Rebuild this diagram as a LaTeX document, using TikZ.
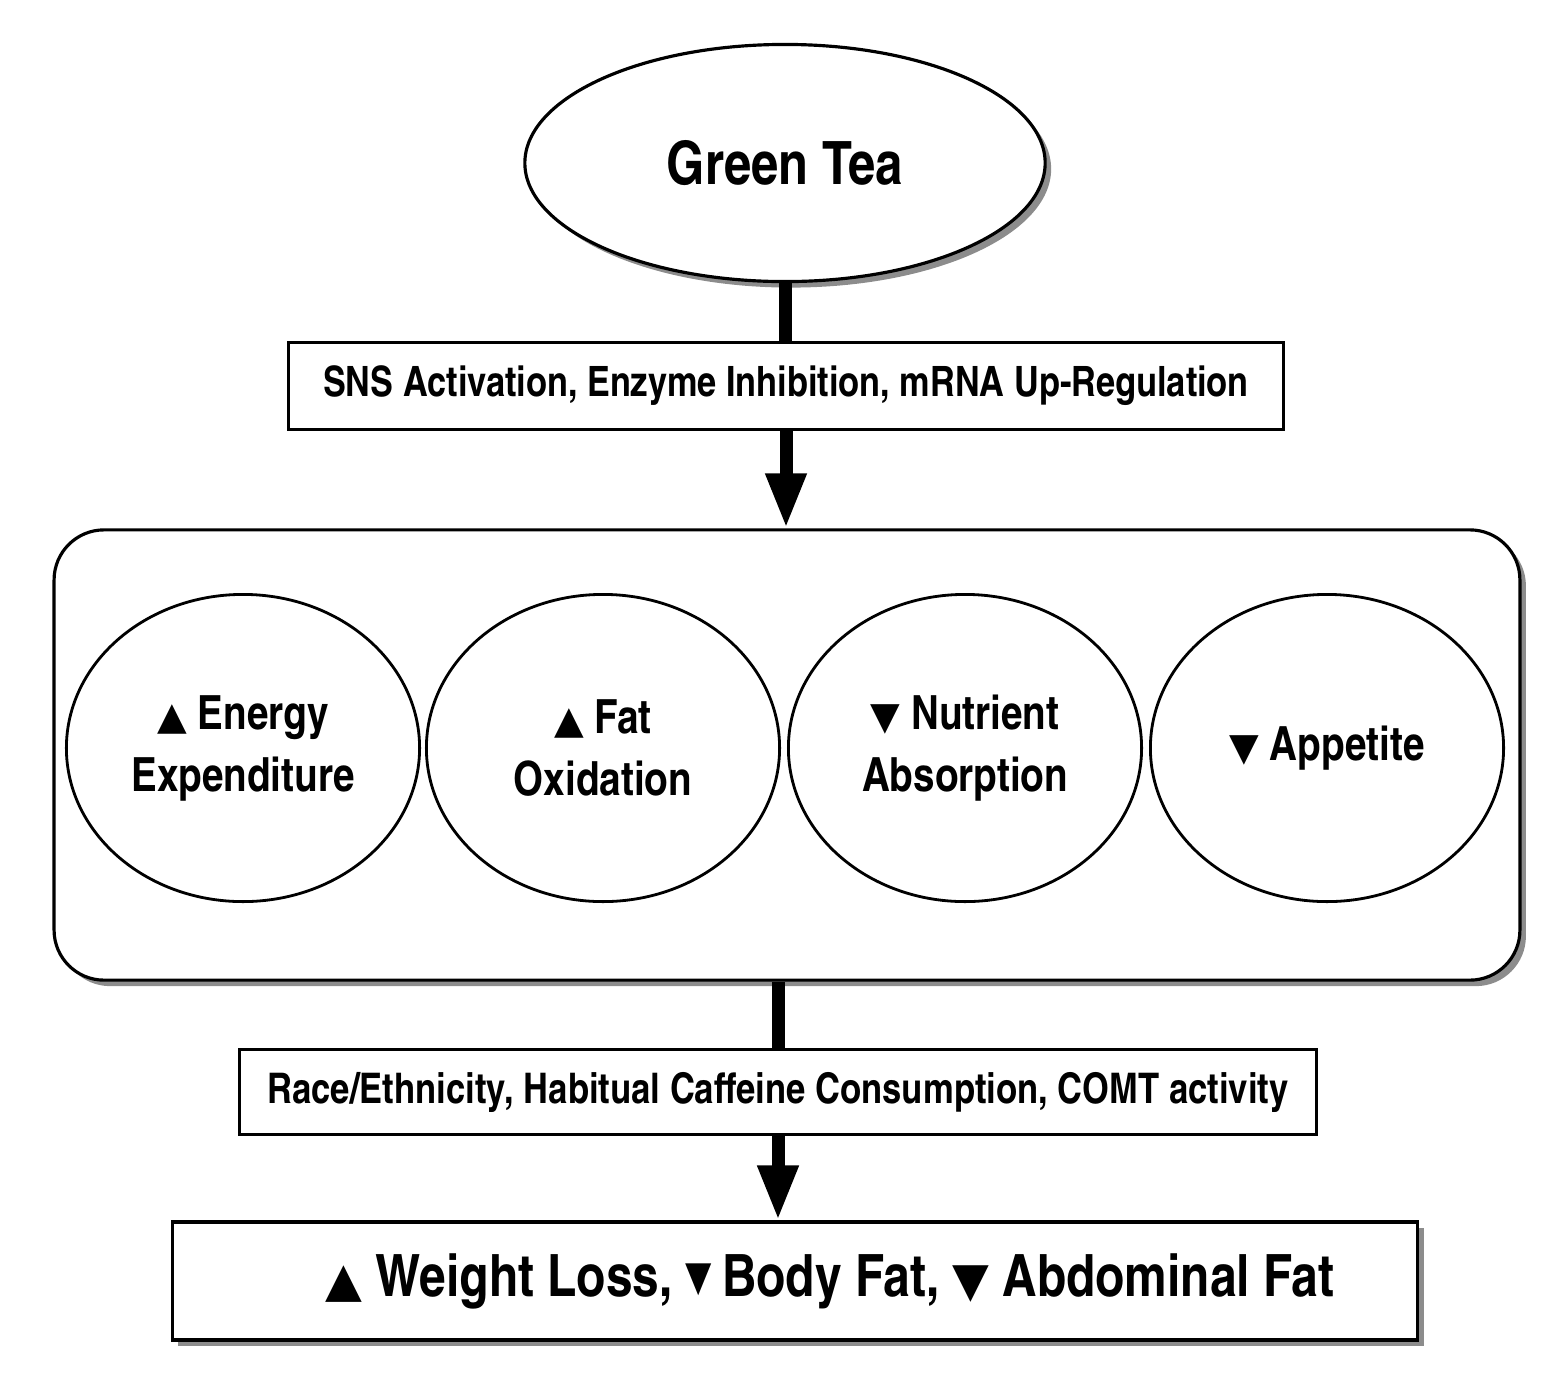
\documentclass[tikz,border=0pt]{standalone}
\usepackage{fontspec}
\setmainfont{texgyreheroscn}[Extension=.otf,UprightFont=*-regular,BoldFont=*-bold,ItalicFont=*-italic,BoldItalicFont=*-bolditalic]
\newfontfamily\trifont{DejaVu Sans}
\newcommand{\incr}{{\trifont\scalebox{0.82}{▲}}}
\newcommand{\decr}{{\trifont\scalebox{0.82}{▼}}}
\newcommand{\decrsmall}{{\trifont\scalebox{0.9}[1.1]{▾}}}
\usetikzlibrary{shapes.geometric,shadows,arrows.meta}
\begin{document}
\begin{tikzpicture}
  [x=0.01cm, y=-0.01cm,
   font=\bfseries,
   boxN/.style={draw,line width=0.9pt,rectangle,fill=white,inner sep=0pt},
   grayShadow/.style={drop shadow={shadow xshift=0.06cm,shadow yshift=-0.06cm,fill=black!45,opacity=1}},
   teaN/.style={draw,line width=0.9pt,ellipse,fill=white,inner sep=0pt,grayShadow},
   effN/.style={draw,line width=0.8pt,ellipse,fill=white,inner sep=0pt,align=center,
     minimum width=3.53cm,minimum height=3.07cm,font=\bfseries\fontsize{13.4}{17.6}\selectfont},
   shaft/.style={line width=0.13cm},
   arrowN/.style={shaft,-{Triangle[width=0.38cm,length=0.55cm]}},
  ]

 \useasboundingbox (0,0) rectangle (1557,1384);

 \node[teaN,minimum width=5.2cm,minimum height=2.37cm,font=\bfseries\fontsize{17}{20}\selectfont]
   (tea) at (785,163) {Green Tea};
 \node[boxN,minimum width=9.94cm,minimum height=0.87cm,font=\bfseries\fontsize{11.9}{14}\selectfont]
   (mech) at (786,386) {SNS Activation, Enzyme Inhibition, mRNA Up-Regulation};
 \node[boxN,rounded corners=0.5cm,minimum width=14.65cm,minimum height=4.5cm,grayShadow]
   (effects) at (787,755) {};

 \node[effN] (energy) at (243,748) {\incr\ Energy\\Expenditure};
 \node[effN] (fatox) at (603,748) {\incr\ Fat\\Oxidation};
 \node[effN] (nutr) at (965,748) {\decr\ Nutrient\\Absorption};
 \node[effN] (appet) at (1327,748) {\decr\ Appetite};

 \node[boxN,minimum width=10.77cm,minimum height=0.85cm,font=\bfseries\fontsize{12}{14}\selectfont]
   (mods) at (778,1092) {Race/Ethnicity, Habitual Caffeine Consumption, COMT activity};
 \node[boxN,minimum width=12.45cm,minimum height=1.18cm,grayShadow,font=\bfseries\fontsize{16.6}{20}\selectfont]
   (outc) at (795,1281) {\hspace{0.7cm}\incr\ Weight Loss, \decrsmall\,Body Fat, \decr\ Abdominal Fat};

 \draw[shaft] (tea) -- (tea.south |- mech.north);
 \draw[arrowN] (mech) -- (mech.south |- effects.north);
 \draw[shaft] (effects.south -| mods) -- (mods);
 \draw[arrowN] (mods) -- (mods.south |- outc.north);
\end{tikzpicture}
\end{document}
